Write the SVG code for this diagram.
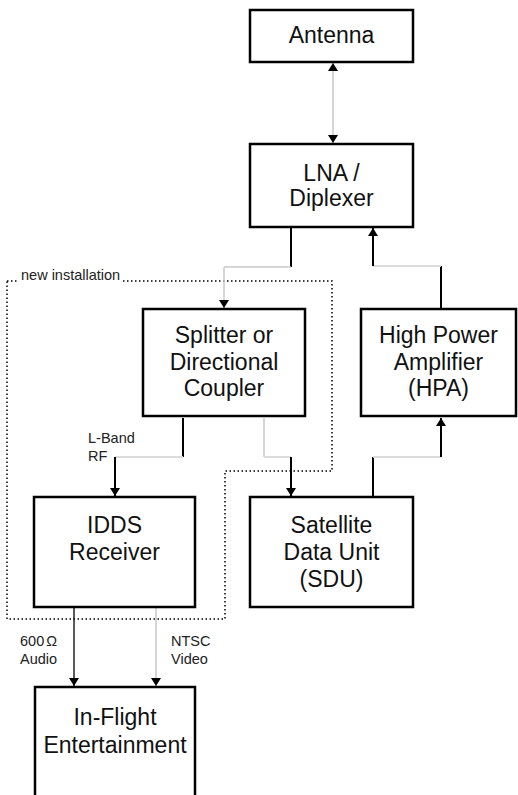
<svg xmlns="http://www.w3.org/2000/svg" width="518" height="795" viewBox="0 0 518 795">
  <style>
    .box { fill: #fff; stroke: #000; stroke-width: 2.5; }
    .lbl { font-family: "Liberation Sans", Arial, sans-serif; font-size: 23px; fill: #111; text-anchor: middle; }
    .small { font-family: "Liberation Sans", Arial, sans-serif; font-size: 14.5px; fill: #222; }
    .blk { fill: none; stroke: #000; stroke-width: 2; }
    .gry { fill: none; stroke: #c8c8c8; stroke-width: 1.5; }
    .gryh { fill: none; stroke: #dcdcdc; stroke-width: 2; }
    .thin { fill: none; stroke: #000; stroke-width: 1.3; }
    .region { fill: none; stroke: #000; stroke-width: 1.5; stroke-dasharray: 1.5 2.5; }
  </style>
  <defs>
    <marker id="arr" viewBox="0 0 8 10" refX="8" refY="5" markerWidth="8" markerHeight="10" markerUnits="userSpaceOnUse" orient="auto">
      <path d="M0,0 L8,5 L0,10 Z" fill="#000"/>
    </marker>
    <marker id="arrStart" viewBox="0 0 8 10" refX="0" refY="5" markerWidth="8" markerHeight="10" markerUnits="userSpaceOnUse" orient="auto">
      <path d="M8,0 L0,5 L8,10 Z" fill="#000"/>
    </marker>
  </defs>
  <rect width="518" height="795" fill="#fff"/>

  <!-- installation boundary -->
  <g id="new-installation">
    <path class="region" d="M7,281 H332 V471 H225 V619 H7 Z"/>
    <rect x="19" y="267" width="104" height="16" fill="#fff"/>
    <text class="small" x="21" y="280">new installation</text>
  </g>

  <!-- connectors -->
  <g id="connectors">
    <!-- antenna <-> LNA -->
    <line class="gry" x1="333" y1="63" x2="333" y2="143" marker-start="url(#arrStart)" marker-end="url(#arr)"/>
    <!-- LNA -> splitter -->
    <line class="blk" x1="291" y1="228" x2="291" y2="267"/>
    <line class="gry" x1="291" y1="267" x2="224" y2="267"/>
    <line class="gry" x1="224" y1="267" x2="224" y2="308" marker-end="url(#arr)"/>
    <!-- splitter -> IDDS -->
    <line class="blk" x1="183" y1="418" x2="183" y2="457"/>
    <line class="gryh" x1="183" y1="457" x2="115" y2="457"/>
    <line class="blk" x1="115" y1="457" x2="115" y2="496" marker-end="url(#arr)"/>
    <!-- splitter -> SDU -->
    <line class="gry" x1="264" y1="418" x2="264" y2="457"/>
    <line class="gryh" x1="264" y1="457" x2="291" y2="457"/>
    <line class="blk" x1="291" y1="457" x2="291" y2="496" marker-end="url(#arr)"/>
    <!-- SDU -> HPA -->
    <line class="blk" x1="373" y1="496" x2="373" y2="457"/>
    <line class="gryh" x1="373" y1="457" x2="441" y2="457"/>
    <line class="blk" x1="441" y1="457" x2="441" y2="418" marker-end="url(#arr)"/>
    <!-- HPA -> LNA -->
    <line class="blk" x1="441" y1="308" x2="441" y2="266"/>
    <line class="gryh" x1="441" y1="266" x2="373" y2="266"/>
    <line class="blk" x1="373" y1="266" x2="373" y2="228" marker-end="url(#arr)"/>
    <!-- IDDS -> in-flight entertainment -->
    <line class="thin" x1="74" y1="608" x2="74" y2="686" marker-end="url(#arr)"/>
    <line class="gry" x1="156" y1="608" x2="156" y2="686" marker-end="url(#arr)"/>
    <!-- connector labels -->
    <text class="small" x="88" y="443">L-Band</text>
    <text class="small" x="88" y="461">RF</text>
    <text class="small" x="20" y="646">600<tspan dx="2">Ω</tspan></text>
    <text class="small" x="20" y="664">Audio</text>
    <text class="small" x="171" y="646">NTSC</text>
    <text class="small" x="171" y="664">Video</text>
  </g>

  <g id="antenna">
    <rect class="box" x="250" y="10" width="163" height="52"/>
    <text class="lbl" x="331.5" y="43">Antenna</text>
  </g>

  <g id="lna">
    <rect class="box" x="250" y="144" width="163" height="83"/>
    <text class="lbl" x="331.5" y="181">LNA /</text>
    <text class="lbl" x="331.5" y="206">Diplexer</text>
  </g>

  <g id="splitter">
    <rect class="box" x="143" y="309" width="162" height="107"/>
    <text class="lbl" x="224" y="343">Splitter or</text>
    <text class="lbl" x="224" y="370">Directional</text>
    <text class="lbl" x="224" y="396">Coupler</text>
  </g>

  <g id="hpa">
    <rect class="box" x="361" y="309" width="155" height="107"/>
    <text class="lbl" x="438.5" y="343">High Power</text>
    <text class="lbl" x="438.5" y="370">Amplifier</text>
    <text class="lbl" x="438.5" y="396">(HPA)</text>
  </g>

  <g id="idds">
    <rect class="box" x="34" y="497" width="161" height="110"/>
    <text class="lbl" x="114.5" y="533">IDDS</text>
    <text class="lbl" x="114.5" y="560">Receiver</text>
  </g>

  <g id="sdu">
    <rect class="box" x="250" y="497" width="163" height="110"/>
    <text class="lbl" x="331.5" y="533">Satellite</text>
    <text class="lbl" x="331.5" y="560">Data Unit</text>
    <text class="lbl" x="331.5" y="587">(SDU)</text>
  </g>

  <g id="ife">
    <rect class="box" x="35" y="687" width="160" height="120"/>
    <text class="lbl" x="115" y="725">In-Flight</text>
    <text class="lbl" x="115" y="753">Entertainment</text>
  </g>
</svg>
